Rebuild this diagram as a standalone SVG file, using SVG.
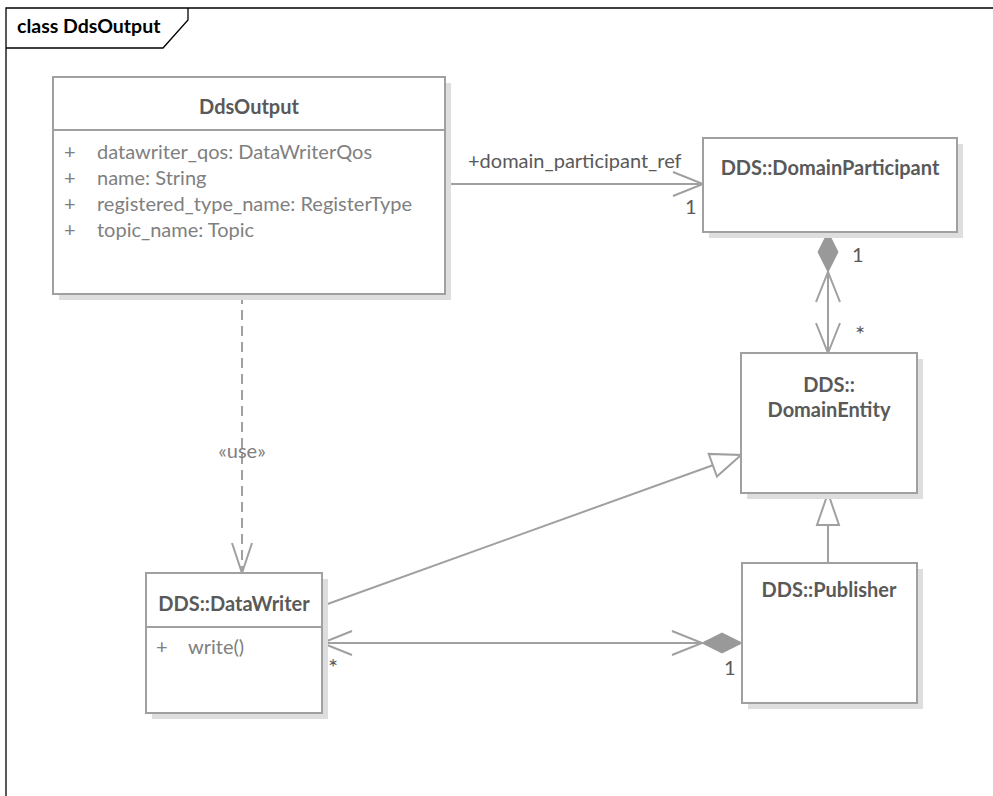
<svg xmlns="http://www.w3.org/2000/svg" width="993" height="796" viewBox="0 0 993 796">
<style>
.frame{fill:none;stroke:#000;stroke-width:1.3}
.box{fill:#fff;stroke:#a0a0a0;stroke-width:2}
.shadow{fill:#dedede}
.sep{stroke:#a0a0a0;stroke-width:2}
.ln{fill:none;stroke:#a0a0a0;stroke-width:2}
.dash{fill:none;stroke:#a0a0a0;stroke-width:2;stroke-dasharray:10 6}
.dia{fill:#999;stroke:#999;stroke-width:1}
.tri{fill:#fff;stroke:#a0a0a0;stroke-width:2}
text{font-family:Lato,"Open Sans","Liberation Sans",sans-serif}
.title{font-weight:bold;font-size:20px;fill:#595959}
.attr{font-size:20px;fill:#808080}
.lbl{font-size:20px;fill:#595959}
.star{font-size:24px;fill:#595959}
.frm{font-weight:bold;font-size:19.5px;fill:#000}
</style>
<rect width="993" height="796" fill="#fff"/>
<g id="frame">
<path class="frame" d="M6,796 V8 H993"/>
<path class="frame" d="M6,48 H163 L188,20 V8"/>
<text class="frm" x="17" y="33">class DdsOutput</text>
</g>
<g id="connectors">
<path class="ln" d="M445,184 H703"/>
<path class="ln" d="M673,172 L703,184 L673,196"/>
<text class="lbl" x="468" y="168">+domain_participant_ref</text>
<text class="lbl" x="685" y="214">1</text>
<path class="ln" d="M828,272 V353"/>
<path class="dia" d="M828,232 L818,252 L828,272 L838,252 Z"/>
<path class="ln" d="M816,302 L828,272 L840,302"/>
<path class="ln" d="M816,323 L828,353 L840,323"/>
<text class="lbl" x="852" y="262">1</text>
<text class="star" x="855" y="343">*</text>
<path class="dash" d="M242,294 V571"/>
<path class="ln" d="M232,543 L242,573 L252,543"/>
<text class="attr" x="242" y="458" text-anchor="middle">«use»</text>
<path class="ln" d="M322,606 L712.8,465.2"/>
<polygon class="tri" points="741,455 716.9,476.5 708.7,453.9"/>
<path class="ln" d="M828,563 V525"/>
<polygon class="tri" points="828,493 817,525 839,525"/>
<path class="ln" d="M322,643 H702"/>
<path class="dia" d="M742,643 L722,633 L702,643 L722,653 Z"/>
<path class="ln" d="M672,631 L702,643 L672,655"/>
<path class="ln" d="M352,631 L322,643 L352,655"/>
<text class="star" x="328" y="676">*</text>
<text class="lbl" x="724" y="675">1</text>
</g>
<g id="DdsOutput">
<rect class="shadow" x="59" y="83" width="392" height="217"/>
<rect class="box" x="53" y="77" width="392" height="217"/>
<line class="sep" x1="53" y1="130" x2="445" y2="130"/>
<text class="title" x="249" y="114" text-anchor="middle">DdsOutput</text>
<text class="attr" x="64" y="159">+</text><text class="attr" x="97" y="159">datawriter_qos: DataWriterQos</text>
<text class="attr" x="64" y="185">+</text><text class="attr" x="97" y="185">name: String</text>
<text class="attr" x="64" y="211">+</text><text class="attr" x="97" y="211">registered_type_name: RegisterType</text>
<text class="attr" x="64" y="237">+</text><text class="attr" x="97" y="237">topic_name: Topic</text>
</g>
<g id="DomainParticipant">
<rect class="shadow" x="709" y="144" width="254" height="94"/>
<rect class="box" x="703" y="138" width="254" height="94"/>
<text class="title" x="830" y="175" text-anchor="middle">DDS::DomainParticipant</text>
</g>
<g id="DomainEntity">
<rect class="shadow" x="747" y="359" width="176" height="140"/>
<rect class="box" x="741" y="353" width="176" height="140"/>
<text class="title" x="829" y="392" text-anchor="middle">DDS::</text>
<text class="title" x="829" y="417" text-anchor="middle">DomainEntity</text>
</g>
<g id="DataWriter">
<rect class="shadow" x="152" y="579" width="176" height="140"/>
<rect class="box" x="146" y="573" width="176" height="140"/>
<line class="sep" x1="146" y1="627" x2="322" y2="627"/>
<text class="title" x="234" y="611" text-anchor="middle">DDS::DataWriter</text>
<text class="attr" x="156" y="654">+</text><text class="attr" x="188" y="654">write()</text>
</g>
<g id="Publisher">
<rect class="shadow" x="748" y="569" width="175" height="140"/>
<rect class="box" x="742" y="563" width="175" height="140"/>
<text class="title" x="829" y="597" text-anchor="middle">DDS::Publisher</text>
</g>
</svg>
